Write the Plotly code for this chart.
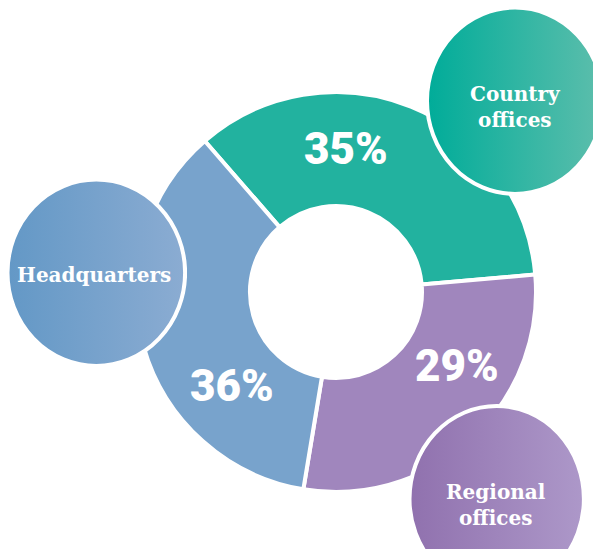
import base64
import plotly.graph_objects as go

# ---- data ----
categories = ["Country offices", "Regional offices", "Headquarters"]
shares = [35, 29, 36]
label_lines = ["Country<br>offices", "Regional<br>offices", "Headquarters"]

# ---- styling ----
slice_colors = ["#22B29F", "#A086BD", "#78A3CC"]
bubble_grad = [("#00AC99", "#5DBEAC"), ("#9071AE", "#AD98C9"), ("#6398C6", "#8BACD2")]

W, H = 593, 549
STROKE = 4

fig = go.Figure()
fig.add_trace(go.Pie(
    labels=categories,
    values=shares,
    sort=False,
    direction="clockwise",
    rotation=-41,
    hole=0.43,
    textinfo="none",
    hoverinfo="label+percent",
    marker=dict(colors=slice_colors, line=dict(color="white", width=4)),
    domain=dict(x=[(336 - 200) / W, (336 + 200) / W],
                y=[(H - 292 - 200) / H, (H - 292 + 200) / H]),
    showlegend=False,
))

# label bubbles: coloured area in pixels (left, top, right, bottom)
bubble_boxes = [(429, 9.5, 601, 192), (411.5, 408, 582, 590), (9.5, 181.5, 183, 364)]
bubble_text_pos = [(515, 107), (496, 505), (93.5, 275)]
pct_pos = [(346, 149), (456.5, 366), (232, 386)]


def bubble_svg(w, h, c0, c1, stroke):
    svg = (
        f"<svg xmlns='http://www.w3.org/2000/svg' width='{w:.1f}' height='{h:.1f}' "
        f"viewBox='0 0 {w:.1f} {h:.1f}' preserveAspectRatio='none'>"
        "<defs><linearGradient id='g' x1='0' y1='0' x2='1' y2='0'>"
        f"<stop offset='0' stop-color='{c0}'/><stop offset='1' stop-color='{c1}'/>"
        "</linearGradient></defs>"
        f"<ellipse cx='{w/2:.1f}' cy='{h/2:.1f}' rx='{w/2 - stroke/2:.1f}' ry='{h/2 - stroke/2:.1f}' "
        f"fill='url(#g)' stroke='white' stroke-width='{stroke}'/></svg>"
    )
    return "data:image/svg+xml;base64," + base64.b64encode(svg.encode()).decode()


images = []
for (l, t, r, b), (c0, c1) in zip(bubble_boxes, bubble_grad):
    l, t, r, b = l - STROKE, t - STROKE, r + STROKE, b + STROKE
    w, h = r - l, b - t
    images.append(dict(source=bubble_svg(w, h, c0, c1, STROKE), xref="paper", yref="paper",
                       x=l / W, y=(H - t) / H, sizex=w / W, sizey=h / H,
                       xanchor="left", yanchor="top", sizing="stretch", layer="above"))

annotations = []
for txt, (x, y) in zip(label_lines, bubble_text_pos):
    annotations.append(dict(text=txt, x=x / W, y=(H - y) / H, xref="paper", yref="paper",
                            showarrow=False, xanchor="center", yanchor="middle",
                            font=dict(family="DejaVu Serif", size=20, color="white", weight="bold")))
for v, (x, y) in zip(shares, pct_pos):
    annotations.append(dict(text=f"{v}%", x=x / W, y=(H - y) / H, xref="paper", yref="paper",
                            showarrow=False, xanchor="center", yanchor="middle",
                            font=dict(family="Roboto", size=44, color="white", weight=900)))

fig.update_layout(
    width=W, height=H,
    margin=dict(l=0, r=0, t=0, b=0),
    paper_bgcolor="white", plot_bgcolor="white",
    images=images, annotations=annotations,
)

fig.write_html("out.html", config={"displayModeBar": False},
               post_script="document.body.style.margin='0';document.body.style.overflow='hidden';")
